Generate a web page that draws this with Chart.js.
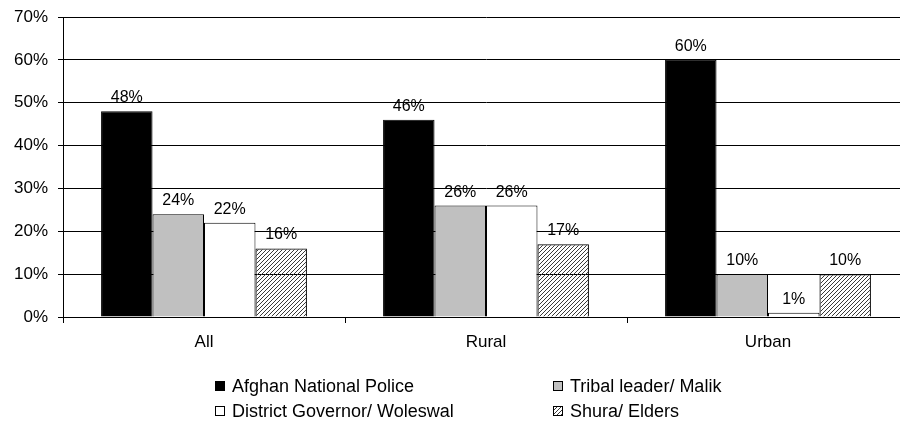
<!DOCTYPE html>
<html>
<head>
<meta charset="utf-8">
<script src="https://cdn.jsdelivr.net/npm/chart.js@4/dist/chart.umd.min.js"></script>
<style>
html,body{margin:0;padding:0;background:#fff;overflow:hidden;}
</style>
</head>
<body>
<canvas id="chart" width="912" height="426"></canvas>
<script>
const categories=["All","Rural","Urban"];
const seriesNames=["Afghan National Police","Tribal leader/ Malik","District Governor/ Woleswal","Shura/ Elders"];
const police=[48,46,60];
const tribal=[24,26,10];
const governor=[22,26,1];
const shura=[16,17,10];

const FONT="'Liberation Sans', Arial, sans-serif";
Chart.defaults.font.family=FONT;
Chart.defaults.color="#000";

// diagonal /// hatch, transparent between the strokes
function makeHatch(ctx){
  const tile=document.createElement("canvas");
  tile.width=4; tile.height=4;
  const g=tile.getContext("2d");
  g.strokeStyle="#3a3a3a"; g.lineWidth=1;
  g.beginPath();
  g.moveTo(0,4); g.lineTo(4,0);
  g.moveTo(-1,1); g.lineTo(1,-1);
  g.moveTo(3,5); g.lineTo(5,3);
  g.stroke();
  return ctx.createPattern(tile,"repeat");
}

const valueLabels={
  id:"valueLabels",
  afterDatasetsDraw(chart){
    const c=chart.ctx;
    c.save();
    c.font="16px "+FONT; c.fillStyle="#000";
    c.textAlign="center"; c.textBaseline="alphabetic";
    chart.data.datasets.forEach((ds,i)=>{
      chart.getDatasetMeta(i).data.forEach((bar,j)=>{
        c.fillText(ds.data[j]+"%",bar.x,bar.y-9);
      });
    });
    c.restore();
  }
};

// two-column legend under the plot
const legendGrid={
  id:"legendGrid",
  afterDraw(chart){
    const c=chart.ctx, cols=[215,553], rows=[386,411];
    c.save();
    c.font="18px "+FONT; c.textBaseline="middle"; c.textAlign="left";
    chart.data.datasets.forEach((ds,i)=>{
      const x=cols[i%2], y=rows[Math.floor(i/2)];
      c.fillStyle="#fff"; c.fillRect(x,y-5,10,10);
      c.fillStyle=ds.backgroundColor; c.fillRect(x,y-5,10,10);
      c.strokeStyle="#000"; c.lineWidth=1; c.strokeRect(x+0.5,y-4.5,9,9);
      c.fillStyle="#000"; c.fillText(ds.label,x+17,y+1);
    });
    c.restore();
  }
};

const ctx=document.getElementById("chart").getContext("2d");
const fills=["#000000","#c0c0c0","#ffffff",makeHatch(ctx)];
const values=[police,tribal,governor,shura];

new Chart(ctx,{
  type:"bar",
  data:{
    labels:categories,
    datasets:seriesNames.map((name,i)=>({
      label:name, data:values[i],
      backgroundColor:fills[i], borderColor:"#000", borderWidth:1,
      categoryPercentage:0.73, barPercentage:1
    }))
  },
  options:{
    responsive:false, animation:false,
    layout:{padding:{top:17,bottom:69,left:0,right:3}},
    plugins:{legend:{display:false},tooltip:{enabled:false}},
    scales:{
      x:{
        grid:{offset:true,drawOnChartArea:false,tickLength:6,color:"#000"},
        border:{color:"#000",width:1},
        ticks:{font:{size:17},color:"#000",padding:9},
        afterFit(s){ s.height=40; }
      },
      y:{
        min:0, max:70,
        ticks:{stepSize:10,font:{size:17},color:"#000",padding:10,callback:v=>v+"%"},
        grid:{color:"#000",lineWidth:1,tickLength:5},
        border:{color:"#000",width:1},
        afterFit(s){ s.width=63; s.paddingTop=0; }
      }
    }
  },
  plugins:[valueLabels,legendGrid]
});
</script>
</body>
</html>
